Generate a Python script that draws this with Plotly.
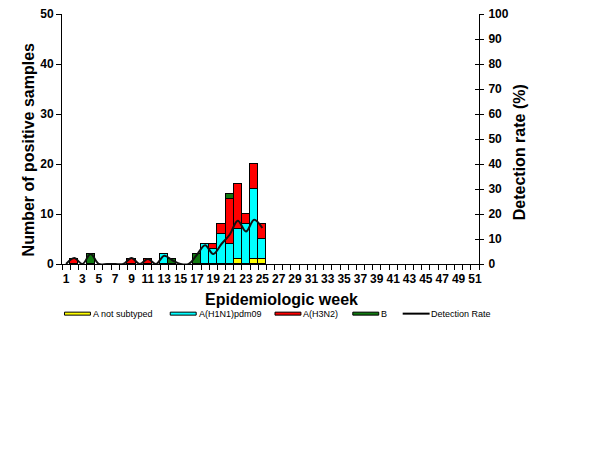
import plotly.graph_objects as go

# epidemiologic weeks shown on the axis
weeks = list(range(1, 52))

# number of positive samples per week (weeks 1-25), by type
not_subtyped = [0, 0, 0, 0, 0, 0, 0, 0, 0, 0, 0, 0, 0, 0, 0, 0, 0, 0, 0, 0, 0, 1, 0, 1, 1]
h1n1pdm09 = [0, 0, 0, 0, 0, 0, 0, 0, 0, 0, 0, 0, 2, 0, 0, 0, 0, 4, 3, 6, 4, 6, 8, 14, 4]
h3n2 = [0, 1, 0, 0, 0, 0, 0, 0, 1, 0, 1, 0, 0, 0, 0, 0, 0, 0, 1, 2, 9, 9, 2, 5, 3]
flu_b = [0, 0, 0, 2, 0, 0, 0, 0, 0, 0, 0, 0, 0, 1, 0, 0, 2, 0, 0, 0, 1, 0, 0, 0, 0]

# detection rate (%) per week
detection_rate = [0, 2.4, 0, 4, 0, 0, 0, 0, 2.4, 0, 2, 0, 3.3, 1.5, 0, 0,
                  3.7, 7.5, 4, 8, 11.7, 17.3, 13, 17.7, 14.4]

data_weeks = weeks[:len(h3n2)]

series = [
    ("A not subtyped", not_subtyped, "#FFFF00"),
    ("A(H1N1)pdm09", h1n1pdm09, "#00FFFF"),
    ("A(H3N2)", h3n2, "#FF0000"),
    ("B", flu_b, "#117A11"),
]

W, H = 614, 460
OFF = 8  # page body margin the browser adds around the figure
L, R, T, B = 61.5, 479.5, 14, 264.3


def px(x):
    return (x - L) / (R - L)


def py(y):
    return (B - y) / (B - T)


fig = go.Figure()
for name, vals, col in series:
    fig.add_trace(go.Bar(
        x=data_weeks, y=[v if v else None for v in vals], name=name,
        marker=dict(color=col, line=dict(color="black", width=1)),
        showlegend=False))

fig.add_trace(go.Scatter(
    x=data_weeks, y=detection_rate, yaxis="y2", mode="lines",
    line=dict(color="#111111", width=2, shape="spline", smoothing=1),
    name="Detection Rate", showlegend=False))

# invisible trace so the inner tick axis on the right is drawn
fig.add_trace(go.Scatter(x=[None], y=[None], yaxis="y3", showlegend=False,
                         hoverinfo="skip"))

font = "Arial, Liberation Sans, sans-serif"

# legend drawn by hand so the swatches look like the original
shapes = []
annotations = []
leg_y = 314
legend_items = [
    ("A not subtyped", "#FFFF00", 64, "bar"),
    ("A(H1N1)pdm09", "#00FFFF", 170, "bar"),
    ("A(H3N2)", "#FF0000", 275, "bar"),
    ("B", "#117A11", 353, "bar"),
    ("Detection Rate", "black", 403, "line"),
]
for label, col, x0, kind in legend_items:
    if kind == "bar":
        shapes.append(dict(type="rect", xref="paper", yref="paper",
                           x0=px(x0), x1=px(x0 + 26), y0=py(leg_y + 1.5), y1=py(leg_y - 1.5),
                           fillcolor=col, line=dict(color="black", width=1)))
    else:
        shapes.append(dict(type="line", xref="paper", yref="paper",
                           x0=px(x0), x1=px(x0 + 27), y0=py(leg_y), y1=py(leg_y),
                           line=dict(color=col, width=2)))
    annotations.append(dict(text=label, xref="paper", yref="paper",
                            x=px(x0 + 26.5), y=py(leg_y), xanchor="left", yanchor="middle",
                            showarrow=False, font=dict(size=9, color="black", family=font)))

annotations += [
    dict(text="Epidemiologic week", xref="paper", yref="paper", x=px(282), y=py(300),
         xanchor="center", yanchor="middle", showarrow=False,
         font=dict(size=16, color="black", family=font, weight="bold")),
    dict(text="Number of positive samples", xref="paper", yref="paper", x=px(28), y=py(150),
         xanchor="center", yanchor="middle", textangle=-90, showarrow=False,
         font=dict(size=16, color="black", family=font, weight="bold")),
    dict(text="Detection rate (%)", xref="paper", yref="paper", x=px(520), y=py(152),
         xanchor="center", yanchor="middle", textangle=-90, showarrow=False,
         font=dict(size=16, color="black", family=font, weight="bold")),
]

tickfont = dict(size=12, color="black", family=font, weight="bold")

fig.update_layout(
    width=W, height=H,
    margin=dict(l=L - OFF, r=W - R + OFF, t=T - OFF, b=H - B + OFF, pad=0, autoexpand=False),
    paper_bgcolor="white", plot_bgcolor="white",
    barmode="stack", bargap=0,
    shapes=shapes, annotations=annotations,
    xaxis=dict(range=[0.5, 51.5], tickvals=weeks[::2], ticks="", showgrid=False,
               showline=True, linecolor="black", linewidth=1, tickfont=tickfont,
               zeroline=False, ticklabelstandoff=4, ticklabeloverflow="allow",
               minor=dict(tickvals=[w + 0.5 for w in [0] + weeks], ticks="outside",
                          ticklen=5, tickcolor="black", showgrid=False)),
    yaxis=dict(range=[0, 50], dtick=10, ticks="outside", ticklen=5, tickcolor="black",
               showline=True, linecolor="black", linewidth=1, showgrid=False,
               zeroline=False, tickfont=tickfont, automargin=False,
               ticklabeloverflow="allow"),
    yaxis2=dict(range=[0, 100], dtick=10, ticks="outside", ticklen=4, tickcolor="black",
                overlaying="y", side="right", showline=True, linecolor="black",
                linewidth=1, showgrid=False, zeroline=False, tickfont=tickfont,
                automargin=False, ticklabeloverflow="allow", ticklabelstandoff=2),
    yaxis3=dict(range=[0, 100], dtick=10, ticks="inside", ticklen=4, tickcolor="black",
                overlaying="y", side="right", showline=False, showgrid=False,
                zeroline=False, showticklabels=False, automargin=False),
)

fig.write_html("out.html")
